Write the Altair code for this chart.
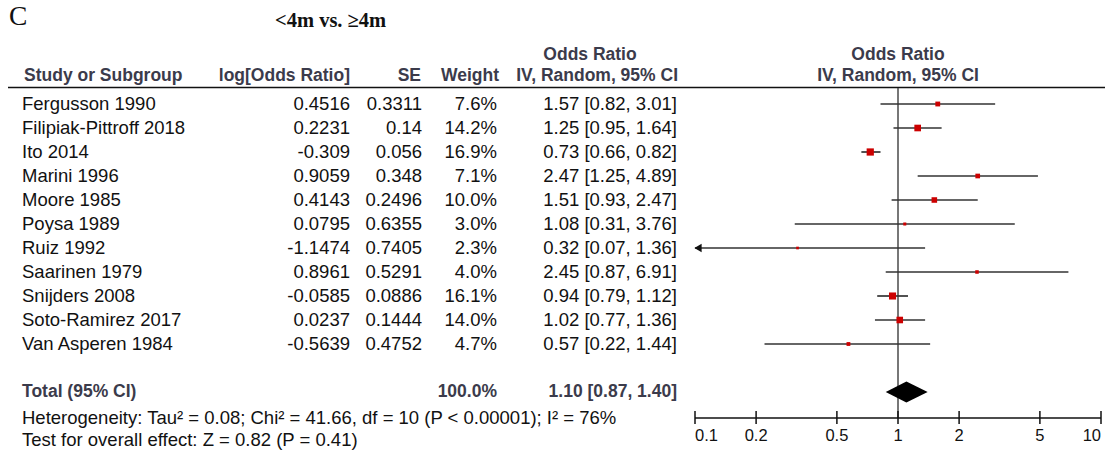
import altair as alt
import pandas as pd

# ---------------- data ----------------
studies = ["Fergusson 1990", "Filipiak-Pittroff 2018", "Ito 2014", "Marini 1996",
           "Moore 1985", "Poysa 1989", "Ruiz 1992", "Saarinen 1979",
           "Snijders 2008", "Soto-Ramirez 2017", "Van Asperen 1984"]
log_or = ["0.4516", "0.2231", "-0.309", "0.9059", "0.4143", "0.0795",
          "-1.1474", "0.8961", "-0.0585", "0.0237", "-0.5639"]
se = ["0.3311", "0.14", "0.056", "0.348", "0.2496", "0.6355",
      "0.7405", "0.5291", "0.0886", "0.1444", "0.4752"]
weight = [7.6, 14.2, 16.9, 7.1, 10.0, 3.0, 2.3, 4.0, 16.1, 14.0, 4.7]
odds = [1.57, 1.25, 0.73, 2.47, 1.51, 1.08, 0.32, 2.45, 0.94, 1.02, 0.57]
lower = [0.82, 0.95, 0.66, 1.25, 0.93, 0.31, 0.07, 0.87, 0.79, 0.77, 0.22]
upper = [3.01, 1.64, 0.82, 4.89, 2.47, 3.76, 1.36, 6.91, 1.12, 1.36, 1.44]

total_weight = 100.0
total_or, total_lo, total_hi = 1.10, 0.87, 1.40
total_row = 12

axis_ticks = [0.1, 0.2, 0.5, 1, 2, 5, 10]
axis_labels = ["0.1", "0.2", "0.5", "1", "2", "5", "10"]

heterogeneity = "Heterogeneity: Tau\u00b2 = 0.08; Chi\u00b2 = 41.66, df = 10 (P < 0.00001); I\u00b2 = 76%"
overall = "Test for overall effect: Z = 0.82 (P = 0.41)"
panel_letter = "C"
subtitle = "<4m vs. \u22654m"

# ---------------- styling ----------------
SANS = "Liberation Sans"
SERIF = "Liberation Serif"
FS = 18.5
HFS = 17.5
HEAD = "#3b3b4b"
TXT = "#111111"
XMIN, XMAX = 0.1, 10

X = alt.Scale(type="log", domain=[XMIN, XMAX], range=[695, 1101], nice=False)
Y = alt.Scale(domain=[0, 12], range=[104, 392], nice=False, zero=False)

n = len(studies)
df = pd.DataFrame({
    "study": studies,
    "row": list(range(n)),
    "logor": log_or,
    "se": se,
    "weight": weight,
    "wtxt": [f"{w:.1f}%" for w in weight],
    "or": odds,
    "lo": lower,
    "lo_plot": [max(l, XMIN) for l in lower],
    "hi": upper,
    "hi_plot": [min(h, XMAX) for h in upper],
    "ci": [f"{o:.2f} [{l:.2f}, {h:.2f}]" for o, l, h in zip(odds, lower, upper)],
    "area": [w * 3.1 for w in weight],
})

yenc = alt.Y("row:Q", scale=Y, axis=None)


def col_text(field, xpos, align, bold=False, color=TXT):
    return alt.Chart(df).mark_text(
        align=align, baseline="middle", font=SANS, fontSize=FS,
        fontWeight="bold" if bold else "normal", color=color
    ).encode(x=alt.value(xpos), y=yenc, text=f"{field}:N")


def label(text, xpos, ypos, align="left", bold=False, color=TXT, font=SANS, size=HFS, baseline="middle"):
    return alt.Chart(pd.DataFrame({"t": [text]})).mark_text(
        align=align, baseline=baseline, font=font, fontSize=size,
        fontWeight="bold" if bold else "normal", color=color
    ).encode(x=alt.value(xpos), y=alt.value(ypos), text="t:N")


layers = []

# titles
layers.append(label(panel_letter, 9, 25, font=SERIF, size=27.5, baseline="alphabetic"))
layers.append(label(subtitle, 275, 27, bold=True, font=SERIF, size=20.5, color="#111", baseline="alphabetic"))

# headers
layers.append(label("Odds Ratio", 590, 55, align="center", bold=True, color=HEAD))
layers.append(label("Odds Ratio", 898, 55, align="center", bold=True, color=HEAD))
layers.append(label("Study or Subgroup", 24, 76, bold=True, color=HEAD))
layers.append(label("log[Odds Ratio]", 350, 76, align="right", bold=True, color=HEAD))
layers.append(label("SE", 421, 76, align="right", bold=True, color=HEAD))
layers.append(label("Weight", 499, 76, align="right", bold=True, color=HEAD))
layers.append(label("IV, Random, 95% CI", 678, 76, align="right", bold=True, color=HEAD))
layers.append(label("IV, Random, 95% CI", 898, 76, align="center", bold=True, color=HEAD))

# header rule
layers.append(alt.Chart(pd.DataFrame({"a": [0]})).mark_rule(color="#111", strokeWidth=1.5).encode(
    x=alt.value(8), x2=alt.value(1105), y=alt.value(87.5)))

# table columns
layers.append(col_text("study", 22, "left"))
layers.append(col_text("logor", 350, "right"))
layers.append(col_text("se", 422, "right"))
layers.append(col_text("wtxt", 497, "right"))
layers.append(col_text("ci", 677, "right"))

# total row
tot = pd.DataFrame({
    "row": [total_row],
    "name": ["Total (95% CI)"],
    "wtxt": [f"{total_weight:.1f}%"],
    "ci": [f"{total_or:.2f} [{total_lo:.2f}, {total_hi:.2f}]"],
})
for field, xpos, align in [("name", 22, "left"), ("wtxt", 497, "right"), ("ci", 677, "right")]:
    layers.append(alt.Chart(tot).mark_text(
        align=align, baseline="middle", font=SANS, fontSize=HFS, fontWeight="bold", color=HEAD
    ).encode(x=alt.value(xpos), y=yenc, text=f"{field}:N"))

# footnotes
foot = pd.DataFrame({"row": [total_row + 1.08, total_row + 2.0], "t": [heterogeneity, overall]})
layers.append(alt.Chart(foot).mark_text(
    align="left", baseline="middle", font=SANS, fontSize=FS, color=TXT
).encode(x=alt.value(22), y=yenc, text="t:N"))

# null line at OR = 1
layers.append(alt.Chart(pd.DataFrame({"v": [1.0]})).mark_rule(color="#4a4a4a", strokeWidth=1.5).encode(
    x=alt.X("v:Q", scale=X, axis=None), y=alt.value(88), y2=alt.value(418)))

# CI lines
layers.append(alt.Chart(df).mark_rule(color="#333", strokeWidth=1.7).encode(
    x=alt.X("lo_plot:Q", scale=X, axis=None), x2="hi_plot:Q", y=yenc))

# arrows for truncated CIs
arr = df[df["lo"] < XMIN]
layers.append(alt.Chart(arr).mark_point(
    shape="triangle-left", filled=True, color="#111", size=70, opacity=1, xOffset=3
).encode(x=alt.X("lo_plot:Q", scale=X, axis=None), y=yenc))

# squares
layers.append(alt.Chart(df).mark_square(color="#cc0000", opacity=1).encode(
    x=alt.X("or:Q", scale=X, axis=None), y=yenc,
    size=alt.Size("area:Q", scale=None, legend=None)))

# diamond
half = 0.44
dia = pd.DataFrame({
    "x": [total_lo, total_or, total_hi],
    "y": [total_row, total_row - half, total_row],
    "y2": [total_row, total_row + half, total_row],
})
layers.append(alt.Chart(dia).mark_area(color="#000", opacity=1).encode(
    x=alt.X("x:Q", scale=X, axis=None),
    y=alt.Y("y:Q", scale=Y, axis=None), y2="y2:Q"))

# bottom axis (manual)
ax = pd.DataFrame({"a": [XMIN], "b": [XMAX]})
layers.append(alt.Chart(ax).mark_rule(color="#111", strokeWidth=1.5).encode(
    x=alt.X("a:Q", scale=X, axis=None), x2="b:Q", y=alt.value(418)))
tk = pd.DataFrame({"v": axis_ticks, "lab": axis_labels})
layers.append(alt.Chart(tk).mark_rule(color="#111", strokeWidth=1.5).encode(
    x=alt.X("v:Q", scale=X, axis=None), y=alt.value(411), y2=alt.value(424)))
for cond, align in [("datum.v == 0.1", "left"), ("datum.v > 0.1 && datum.v < 10", "center"), ("datum.v == 10", "right")]:
    layers.append(alt.Chart(tk).transform_filter(cond).mark_text(
        align=align, baseline="middle", font=SANS, fontSize=16.5, color=TXT
    ).encode(x=alt.X("v:Q", scale=X, axis=None), y=alt.value(436), text="lab:N"))

chart = alt.layer(*layers).properties(
    width=1105, height=458, autosize=alt.AutoSizeParams(type="none"), padding=0,
    background="white"
).configure_view(stroke=None)

chart.save("out.html", embed_options={"renderer": "svg", "actions": False})
